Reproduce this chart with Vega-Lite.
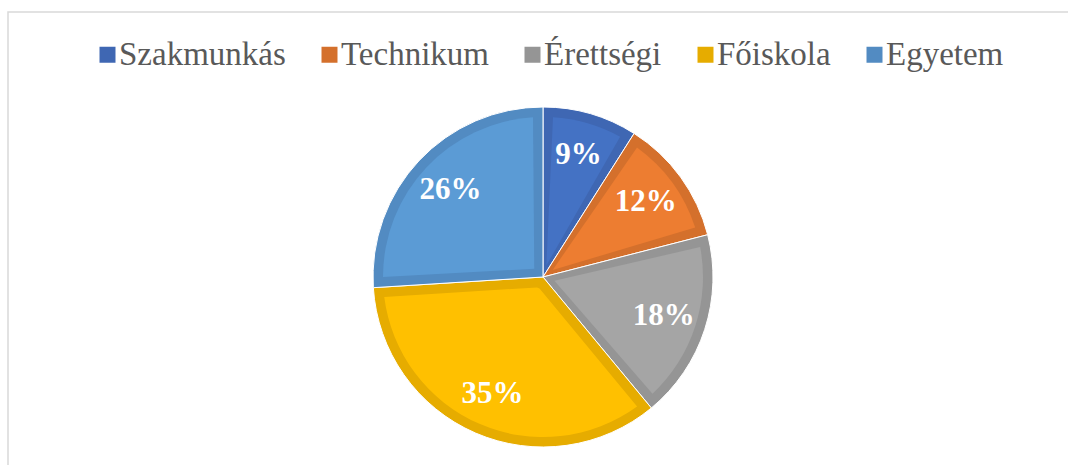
{
  "$schema": "https://vega.github.io/schema/vega-lite/v6.json",
  "width": 1070,
  "height": 530,
  "autosize": "none",
  "padding": {"left": 8, "top": 12, "right": 0, "bottom": 0},
  "background": "white",
  "view": {"stroke": "#D9D9D9", "strokeWidth": 1.5},
  "config": {
    "view": {"stroke": "#D9D9D9", "strokeWidth": 1.5},
    "font": "Liberation Serif"
  },
  "data": {
    "values": [
      {"kat": "Szakmunkás", "v": 9, "ord": 1, "label": "9%"},
      {"kat": "Technikum", "v": 12, "ord": 2, "label": "12%"},
      {"kat": "Érettségi", "v": 18, "ord": 3, "label": "18%"},
      {"kat": "Főiskola", "v": 35, "ord": 4, "label": "35%"},
      {"kat": "Egyetem", "v": 26, "ord": 5, "label": "26%"}
    ]
  },
  "encoding": {
    "theta": {"field": "v", "type": "quantitative", "stack": true},
    "order": {"field": "ord", "type": "quantitative"}
  },
  "layer": [
    {
      "mark": {"type": "arc", "outerRadius": 170, "stroke": "white", "strokeWidth": 1},
      "encoding": {
        "color": {
          "field": "kat",
          "type": "nominal",
          "scale": {
            "domain": ["Szakmunkás", "Technikum", "Érettségi", "Főiskola", "Egyetem"],
            "range": ["#3F67B3", "#D4702C", "#959595", "#E6AC00", "#528BC2"]
          },
          "legend": {
            "orient": "none",
            "legendX": 83,
            "legendY": 26,
            "direction": "horizontal",
            "title": null,
            "symbolType": "square",
            "symbolSize": 256,
            "symbolStrokeWidth": 0,
            "symbolOpacity": 1,
            "labelFont": "Liberation Serif",
            "labelFontSize": 33,
            "labelColor": "#595959",
            "labelOffset": -5,
            "columnPadding": 27,
            "labelLimit": 0
          }
        }
      }
    },
    {
      "mark": {"type": "arc", "outerRadius": 160, "innerRadius": 12, "padAngle": 0.1248},
      "encoding": {
        "fill": {
          "field": "kat",
          "type": "nominal",
          "scale": {
            "domain": ["Szakmunkás", "Technikum", "Érettségi", "Főiskola", "Egyetem"],
            "range": ["#4472C4", "#ED7D31", "#A5A5A5", "#FFC000", "#5B9BD5"]
          },
          "legend": null
        }
      }
    },
    {
      "mark": {"type": "text", "radius": 127, "fontSize": 31, "fontWeight": "bold", "fill": "white", "font": "Liberation Serif", "align": "center", "baseline": "middle"},
      "encoding": {"text": {"field": "label", "type": "nominal"}}
    }
  ]
}
